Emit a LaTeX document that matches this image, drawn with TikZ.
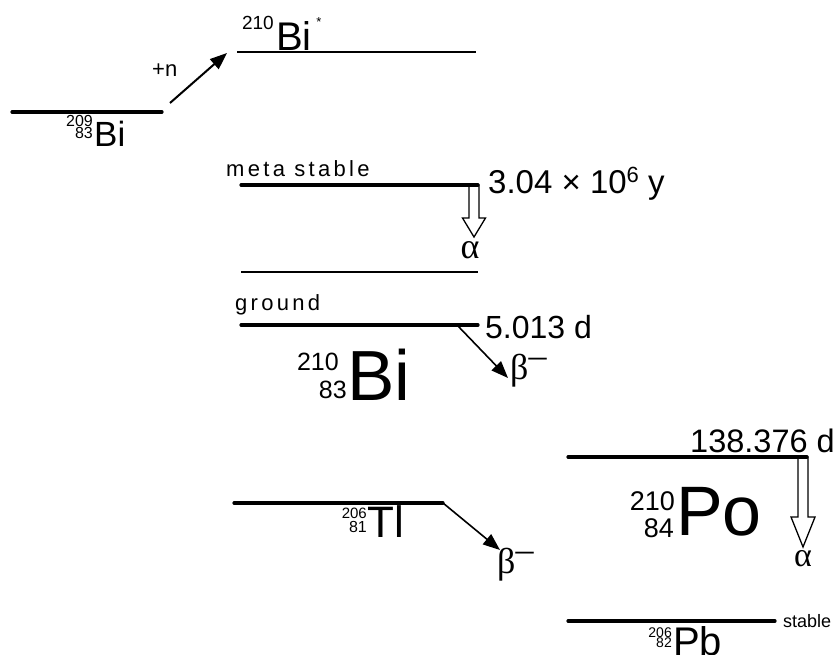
\documentclass[tikz,border=0pt]{standalone}
\usepackage{fontspec}
\setmainfont{Liberation Sans}
\newfontfamily\grkfont{Liberation Serif}
\newfontfamily\spacedfont[LetterSpace=15]{Liberation Sans}
\usetikzlibrary{arrows.meta}
\newcommand\setfs[1]{\fontsize{#1}{#1}\selectfont}
\newcommand\betaminus{{\grkfont\setfs{36}β\raisebox{11.5pt}{–}}}
\begin{document}
\begin{tikzpicture}[x=1pt,y=-1pt,
  lvl/.style={line width=3.2pt, line cap=round},
  thinlvl/.style={line width=1.6pt},
  txt/.style={inner sep=0pt, anchor=base west},
  txtr/.style={inner sep=0pt, anchor=base east},
  hollow/.style={draw, fill=white, line width=1.3pt, line join=miter},
  arr/.style={line width=1.6pt, -{Triangle[length=17pt,width=13pt]}}]
\useasboundingbox (0,0) rectangle (835,655);

% --- 209Bi + n ---
\coordinate (b209l) at (12,112);
\coordinate (b209r) at (162,112);
\draw[lvl] (b209l) -- (b209r);
\node[txtr] (a209) at (93,126.5) {\setfs{16}209};
\node[txtr] (z83a) at (93,139) {\setfs{16}83};
\node[txt] (bi209) at (94,147) {\setfs{35}Bi};
\coordinate (nst) at (170,103);
\coordinate (nend) at (227,53);
\draw[arr, line width=2pt] (nst) -- (nend);
\node[txt] (plusn) at (152,77) {\setfs{22}+n};

% --- 210Bi* ---
\coordinate (bsl) at (237,52);
\coordinate (bsr) at (476,52);
\draw[thinlvl] (bsl) -- (bsr);
\node[txtr] (a210s) at (274,30) {\setfs{19}210};
\node[txt] (bistar) at (276,51) {\setfs{40}Bi};
\node[inner sep=0pt] (star) at (319,22) {\setfs{13}*};

% --- meta stable ---
\draw[hollow] (469,185) -- (469,218) -- (462.5,218) -- (474,237) -- (485.5,218) -- (479,218) -- (479,185) -- cycle;
\coordinate (msl) at (241,185);
\coordinate (msr) at (478,185);
\draw[lvl] (msl) -- (msr);
\node[txt] (metatxt) at (226,177) {\spacedfont\setfs{22}meta stable};
\node[txt] (hl1) at (488,194) {\setfs{33}3.04 × 10\raisebox{11pt}{\setfs{22}6} y};
\node[inner sep=0pt] (alpha1) at (470,250) {\grkfont\setfs{36}α};
\coordinate (lol) at (241,272);
\coordinate (lor) at (478,272);
\draw[thinlvl] (lol) -- (lor);

% --- ground 210Bi ---
\coordinate (gl) at (241,325);
\coordinate (gr) at (478,325);
\draw[lvl] (gl) -- (gr);
\node[txt] (groundtxt) at (235,310) {\spacedfont\setfs{22}ground};
\node[txt] (hl2) at (485,338) {\setfs{32}5.013 d};
\coordinate (b1s) at (457,325);
\coordinate (b1e) at (508,378);
\draw[arr] (b1s) -- (b1e);
\node[txt] (beta1) at (510,379) {\betaminus};
\node[txtr] (a210b) at (339,370) {\setfs{25}210};
\node[txtr] (z83b) at (347,398) {\setfs{25}83};
\node[txt] (bi210) at (347,400) {\setfs{71}Bi};

% --- 206Tl ---
\coordinate (tll) at (234,503);
\coordinate (tlr) at (443,503);
\draw[lvl] (tll) -- (tlr);
\coordinate (b2e) at (500,550);
\draw[arr] (tlr) -- (b2e);
\node[txt] (beta2) at (497,573) {\betaminus};
\node[txtr] (a206t) at (367,518) {\setfs{15}206};
\node[txtr] (z81) at (367,532) {\setfs{16}81};
\node[txt] (tl) at (367,537) {\setfs{44}Tl};

% --- 210Po ---
\draw[hollow] (798,457) -- (798,517) -- (791,517) -- (803,547) -- (815,517) -- (808,517) -- (808,457) -- cycle;
\coordinate (pol) at (568,457);
\coordinate (por) at (807,457);
\draw[lvl] (pol) -- (por);
\node[txt] (hl3) at (690,452) {\setfs{32.5}138.376 d};
\node[inner sep=0pt] (alpha2) at (803,559) {\grkfont\setfs{34}α};
\node[txtr] (a210p) at (675,510) {\setfs{27}210};
\node[txtr] (z84) at (674,537) {\setfs{27}84};
\node[txt] (po) at (676,535) {\setfs{70}Po};

% --- 206Pb ---
\coordinate (pbl) at (568,621);
\coordinate (pbr) at (775,621);
\draw[lvl] (pbl) -- (pbr);
\node[txt] (stabletxt) at (783,627) {\setfs{18}stable};
\node[txtr] (a206p) at (672,637) {\setfs{14}206};
\node[txtr] (z82) at (672,647.5) {\setfs{14}82};
\node[txt] (pb) at (673,655) {\setfs{40}Pb};
\end{tikzpicture}
\end{document}
